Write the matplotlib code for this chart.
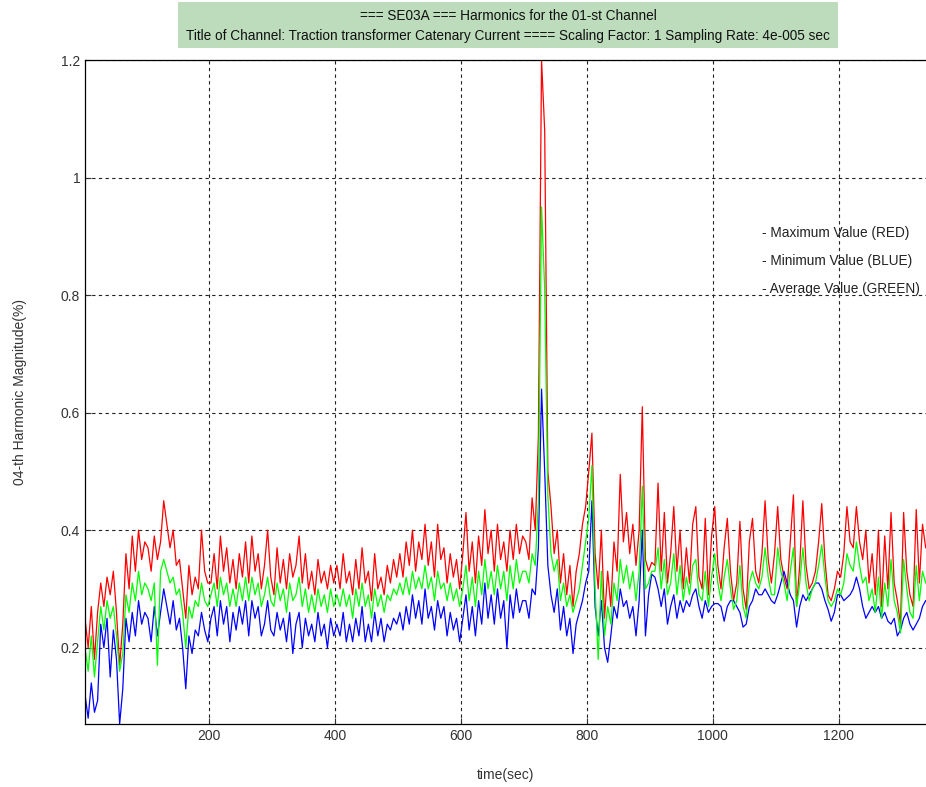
import numpy as np
import matplotlib
matplotlib.use("Agg")
import matplotlib.pyplot as plt
from matplotlib.patches import Rectangle

plt.rcParams['font.family'] = ['Liberation Sans', 'DejaVu Sans']

# Sampling grid of the harmonic record (seconds)
t_start = 3
t_step = 5

# 4th harmonic magnitude (%) per time block: maximum, average and minimum
max_values = [
    0.25, 0.20, 0.27, 0.18, 0.26, 0.31, 0.27, 0.32, 0.29, 0.33, 0.26, 0.17, 0.24, 0.36, 0.30, 0.39, 0.33, 0.40, 0.35, 0.38,
    0.37, 0.33, 0.39, 0.35, 0.38, 0.45, 0.41, 0.37, 0.40, 0.34, 0.35, 0.30, 0.25, 0.34, 0.29, 0.32, 0.30, 0.40, 0.33, 0.31,
    0.31, 0.36, 0.30, 0.39, 0.33, 0.37, 0.31, 0.35, 0.30, 0.36, 0.32, 0.38, 0.31, 0.39, 0.33, 0.36, 0.30, 0.34, 0.40, 0.32,
    0.29, 0.37, 0.31, 0.35, 0.30, 0.36, 0.32, 0.34, 0.39, 0.31, 0.36, 0.30, 0.33, 0.29, 0.35, 0.31, 0.33, 0.30, 0.34, 0.31,
    0.34, 0.30, 0.36, 0.31, 0.33, 0.29, 0.35, 0.30, 0.37, 0.31, 0.33, 0.28, 0.36, 0.30, 0.32, 0.29, 0.34, 0.31, 0.35, 0.32,
    0.36, 0.32, 0.38, 0.34, 0.40, 0.33, 0.38, 0.35, 0.41, 0.34, 0.38, 0.32, 0.41, 0.35, 0.37, 0.31, 0.36, 0.32, 0.35, 0.30,
    0.36, 0.43, 0.33, 0.38, 0.31, 0.39, 0.34, 0.435, 0.36, 0.40, 0.33, 0.41, 0.35, 0.38, 0.33, 0.40, 0.35, 0.41, 0.36, 0.39,
    0.38, 0.35, 0.455, 0.40, 0.56, 1.20, 1.08, 0.50, 0.44, 0.36, 0.40, 0.31, 0.36, 0.29, 0.34, 0.27, 0.33, 0.36, 0.41, 0.44,
    0.50, 0.565, 0.36, 0.30, 0.40, 0.25, 0.33, 0.27, 0.38, 0.33, 0.495, 0.38, 0.43, 0.36, 0.41, 0.34, 0.40, 0.61, 0.35, 0.33,
    0.345, 0.34, 0.48, 0.33, 0.43, 0.31, 0.36, 0.44, 0.33, 0.40, 0.30, 0.37, 0.31, 0.41, 0.44, 0.32, 0.30, 0.42, 0.29, 0.39,
    0.44, 0.34, 0.30, 0.37, 0.42, 0.33, 0.28, 0.31, 0.415, 0.30, 0.265, 0.38, 0.42, 0.33, 0.31, 0.36, 0.45, 0.35, 0.31, 0.36,
    0.44, 0.35, 0.32, 0.30, 0.38, 0.46, 0.27, 0.34, 0.45, 0.34, 0.30, 0.31, 0.33, 0.38, 0.445, 0.35, 0.29, 0.28, 0.30, 0.33,
    0.32, 0.36, 0.44, 0.38, 0.37, 0.44, 0.38, 0.35, 0.40, 0.31, 0.36, 0.29, 0.40, 0.27, 0.39, 0.30, 0.43, 0.31, 0.28, 0.24,
    0.43, 0.33, 0.29, 0.27, 0.435, 0.31, 0.41, 0.37,
]

avg_values = [
    0.20, 0.16, 0.22, 0.15, 0.21, 0.27, 0.23, 0.28, 0.25, 0.27, 0.22, 0.16, 0.19, 0.29, 0.26, 0.31, 0.28, 0.33, 0.29, 0.31,
    0.30, 0.28, 0.31, 0.17, 0.33, 0.35, 0.33, 0.31, 0.32, 0.29, 0.30, 0.26, 0.20, 0.27, 0.25, 0.28, 0.27, 0.31, 0.28, 0.27,
    0.29, 0.31, 0.27, 0.32, 0.29, 0.31, 0.27, 0.30, 0.27, 0.31, 0.28, 0.32, 0.28, 0.32, 0.29, 0.31, 0.27, 0.29, 0.32, 0.28,
    0.27, 0.31, 0.28, 0.30, 0.26, 0.31, 0.28, 0.29, 0.32, 0.27, 0.30, 0.26, 0.29, 0.26, 0.30, 0.27, 0.29, 0.26, 0.30, 0.27,
    0.29, 0.27, 0.30, 0.27, 0.29, 0.25, 0.30, 0.27, 0.31, 0.27, 0.29, 0.25, 0.30, 0.27, 0.29, 0.26, 0.29, 0.28, 0.30, 0.29,
    0.31, 0.29, 0.32, 0.29, 0.33, 0.30, 0.32, 0.30, 0.34, 0.30, 0.32, 0.28, 0.33, 0.30, 0.31, 0.28, 0.31, 0.28, 0.30, 0.27,
    0.30, 0.34, 0.28, 0.32, 0.27, 0.33, 0.29, 0.35, 0.30, 0.33, 0.29, 0.34, 0.30, 0.33, 0.28, 0.34, 0.30, 0.35, 0.31, 0.33,
    0.33, 0.31, 0.36, 0.34, 0.45, 0.95, 0.81, 0.46, 0.36, 0.33, 0.35, 0.28, 0.31, 0.27, 0.29, 0.26, 0.28, 0.30, 0.34, 0.38,
    0.42, 0.51, 0.30, 0.18, 0.33, 0.22, 0.27, 0.24, 0.31, 0.28, 0.35, 0.31, 0.34, 0.30, 0.33, 0.28, 0.33, 0.475, 0.30, 0.31,
    0.33, 0.33, 0.37, 0.30, 0.35, 0.29, 0.31, 0.36, 0.29, 0.34, 0.28, 0.32, 0.29, 0.34, 0.35, 0.29, 0.28, 0.33, 0.27, 0.32,
    0.36, 0.31, 0.28, 0.32, 0.35, 0.30, 0.265, 0.28, 0.34, 0.27, 0.25, 0.31, 0.33, 0.31, 0.30, 0.32, 0.37, 0.32, 0.29, 0.29,
    0.37, 0.33, 0.31, 0.28, 0.33, 0.37, 0.27, 0.31, 0.37, 0.31, 0.28, 0.30, 0.31, 0.34, 0.375, 0.32, 0.28, 0.27, 0.28, 0.30,
    0.29, 0.31, 0.36, 0.34, 0.33, 0.38, 0.34, 0.31, 0.32, 0.28, 0.30, 0.26, 0.32, 0.25, 0.31, 0.27, 0.35, 0.28, 0.26, 0.225,
    0.35, 0.30, 0.26, 0.25, 0.34, 0.28, 0.33, 0.31,
]

min_values = [
    0.12, 0.08, 0.14, 0.09, 0.11, 0.24, 0.20, 0.25, 0.15, 0.23, 0.18, 0.07, 0.13, 0.25, 0.21, 0.26, 0.22, 0.28, 0.24, 0.26,
    0.25, 0.21, 0.27, 0.22, 0.26, 0.30, 0.27, 0.24, 0.28, 0.23, 0.25, 0.20, 0.13, 0.22, 0.19, 0.23, 0.22, 0.26, 0.23, 0.21,
    0.25, 0.27, 0.22, 0.28, 0.24, 0.27, 0.21, 0.26, 0.23, 0.27, 0.24, 0.28, 0.22, 0.28, 0.25, 0.27, 0.22, 0.24, 0.28, 0.23,
    0.22, 0.26, 0.23, 0.25, 0.21, 0.26, 0.19, 0.24, 0.26, 0.20, 0.25, 0.22, 0.24, 0.21, 0.26, 0.22, 0.24, 0.20, 0.25, 0.22,
    0.24, 0.22, 0.26, 0.21, 0.24, 0.21, 0.25, 0.22, 0.27, 0.21, 0.24, 0.21, 0.26, 0.22, 0.25, 0.21, 0.24, 0.23, 0.25, 0.24,
    0.26, 0.23, 0.27, 0.24, 0.29, 0.25, 0.28, 0.24, 0.30, 0.25, 0.27, 0.23, 0.28, 0.25, 0.27, 0.22, 0.26, 0.23, 0.25, 0.21,
    0.25, 0.29, 0.23, 0.27, 0.22, 0.28, 0.24, 0.31, 0.25, 0.29, 0.24, 0.30, 0.25, 0.28, 0.20, 0.29, 0.25, 0.30, 0.26, 0.28,
    0.28, 0.25, 0.30, 0.29, 0.37, 0.64, 0.50, 0.34, 0.29, 0.26, 0.30, 0.23, 0.27, 0.22, 0.25, 0.19, 0.24, 0.26, 0.28, 0.31,
    0.33, 0.45, 0.27, 0.22, 0.28, 0.20, 0.175, 0.22, 0.27, 0.25, 0.30, 0.27, 0.28, 0.25, 0.27, 0.22, 0.28, 0.40, 0.22, 0.29,
    0.325, 0.32, 0.30, 0.27, 0.30, 0.24, 0.27, 0.29, 0.25, 0.28, 0.26, 0.28, 0.27, 0.29, 0.30, 0.27, 0.25, 0.28, 0.26, 0.27,
    0.275, 0.275, 0.27, 0.245, 0.27, 0.28, 0.28, 0.27, 0.26, 0.235, 0.24, 0.27, 0.28, 0.30, 0.29, 0.29, 0.30, 0.29, 0.28, 0.275,
    0.29, 0.31, 0.33, 0.31, 0.29, 0.28, 0.235, 0.27, 0.29, 0.28, 0.29, 0.30, 0.31, 0.31, 0.30, 0.28, 0.265, 0.245, 0.26, 0.29,
    0.29, 0.28, 0.285, 0.29, 0.30, 0.32, 0.30, 0.27, 0.25, 0.26, 0.27, 0.26, 0.27, 0.25, 0.26, 0.245, 0.24, 0.25, 0.22, 0.23,
    0.25, 0.26, 0.24, 0.23, 0.24, 0.25, 0.27, 0.28,
]

x_ticks = [200, 400, 600, 800, 1000, 1200]
y_ticks = [0.2, 0.4, 0.6, 0.8, 1.0, 1.2]
y_tick_labels = ["0.2", "0.4", "0.6", "0.8", "1", "1.2"]

title_lines = [
    "=== SE03A === Harmonics for the 01-st Channel",
    "Title of Channel: Traction transformer Catenary Current ==== Scaling Factor: 1 Sampling Rate: 4e-005 sec",
]
legend_lines = [
    "- Maximum Value (RED)",
    "- Minimum Value (BLUE)",
    "- Average Value (GREEN)",
]
legend_y = [0.906, 0.858, 0.811]

t = t_start + t_step * np.arange(len(max_values))

fig = plt.figure(figsize=(9.26, 7.87), dpi=100)
ax = fig.add_axes([0.0918, 0.080, 0.9092, 0.8437])

ax.plot(t, max_values, color=(1, 0, 0), lw=0.9)
ax.plot(t, min_values, color=(0, 0, 1), lw=0.9)
ax.plot(t, avg_values, color=(0, 1, 0), lw=0.9)

ax.set_xlim(3, 1340)
ax.set_ylim(0.07, 1.2)
ax.set_xticks(x_ticks)
ax.set_yticks(y_ticks)
ax.set_yticklabels(y_tick_labels)
ax.tick_params(direction='in', length=4, labelsize=10, colors='#333333', width=0.8)
ax.grid(True, color='#222222', linestyle=(0, (3, 3)), linewidth=0.8)
ax.spines['right'].set_visible(False)
for side in ('left', 'top', 'bottom'):
    ax.spines[side].set_linewidth(0.9)

ax.set_xlabel("time(sec)", fontsize=10, color='#333333', labelpad=18)
ax.set_ylabel("04-th Harmonic Magnitude(%)", fontsize=10, color='#333333', labelpad=24)

for txt, yv in zip(legend_lines, legend_y):
    ax.text(1078, yv, txt, fontsize=9.8, color='#222222', va='center', ha='left')

# Header box with the channel description
fig.patches.append(Rectangle((178 / 926, 1 - 48 / 787), 660 / 926, 46 / 787,
                             transform=fig.transFigure, facecolor='#bcdcbc',
                             edgecolor='none', zorder=0))
fig.text(508 / 926, 1 - 16 / 787, title_lines[0], ha='center', va='center',
         fontsize=9.8, color='#111111')
fig.text(508 / 926, 1 - 36 / 787, title_lines[1], ha='center', va='center',
         fontsize=9.8, color='#111111')

fig.savefig("out.png", dpi=100)
